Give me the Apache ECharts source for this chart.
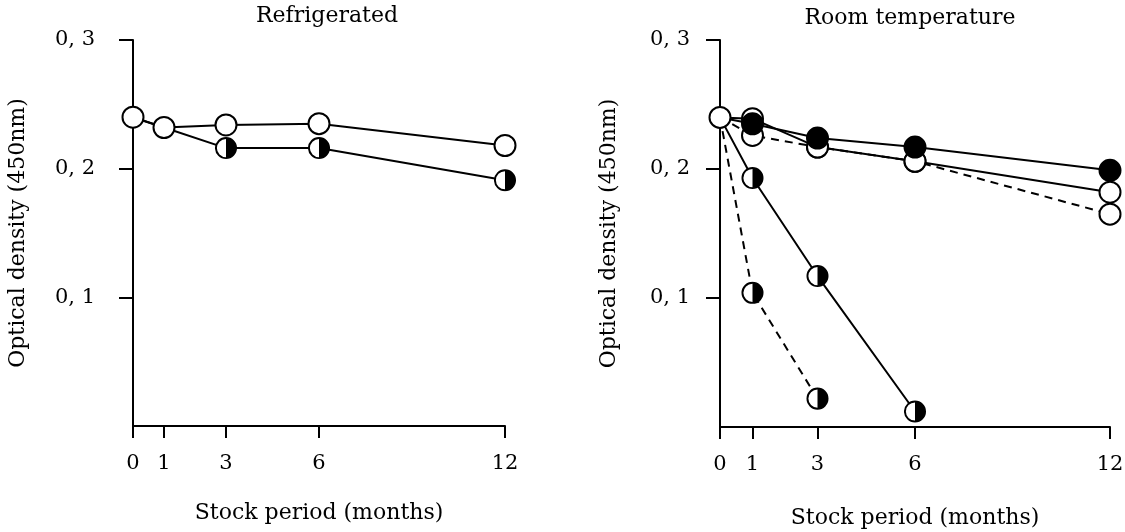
<!DOCTYPE html>
<html>
<head>
<meta charset="utf-8">
<script src="https://cdn.jsdelivr.net/npm/echarts@6/dist/echarts.min.js"></script>
<style>
  html, body { margin: 0; padding: 0; background: #fff; }
  #chart { width: 1125px; height: 532px; }
</style>
</head>
<body>
<div id="chart"></div>
<script>
// months on the x axis
const months = [0, 1, 3, 6, 12];
const monthTicks = [0, 1, 3, 6, 12];
const odTicks = [0.1, 0.2, 0.3];

// Refrigerated
const refOpen = [0.240, 0.232, 0.234, 0.235, 0.218];
const refHalf = [0.240, 0.232, 0.216, 0.216, 0.191];

// Room temperature
const roomFilled = [0.240, 0.235, 0.224, 0.217, 0.199];
const roomOpenSolid = [0.240, 0.239, 0.217, 0.206, 0.182];
const roomOpenDashed = [0.240, 0.226, 0.217, 0.206, 0.165];
const roomHalfSolid = [0.240, 0.193, 0.117, 0.012];
const roomHalfDashed = [0.240, 0.104, 0.022];

const FONT = 'DejaVu Serif';
const INK = '#000';

// white left / black right circle
const halfSvg = '<svg xmlns="http://www.w3.org/2000/svg" width="24" height="24" viewBox="0 0 24 24">' +
    '<circle cx="12" cy="12" r="10.5" fill="#fff" stroke="#000" stroke-width="2"/>' +
    '<path d="M12 1.5 A10.5 10.5 0 0 1 12 22.5 Z" fill="#000"/></svg>';
const HALF = 'image://data:image/svg+xml;charset=utf-8,' + encodeURIComponent(halfSvg);

const markers = {
    open: { symbol: 'circle', size: 21, itemStyle: { color: '#fff', borderColor: '#000', borderWidth: 2 } },
    filled: { symbol: 'circle', size: 21, itemStyle: { color: '#000', borderColor: '#000', borderWidth: 2 } },
    half: { symbol: HALF, size: 23, itemStyle: { color: '#000' } }
};

// hide the marker on points shared with another line (start / split points)
function toData(values, hideFirst) {
    return values.map((v, i) => {
        const item = { value: [months[i], v] };
        if (i < hideFirst) item.symbol = 'none';
        return item;
    });
}

function line(idx, values, kind, dashed, hideFirst = 0) {
    return {
        type: 'line',
        xAxisIndex: idx,
        yAxisIndex: idx,
        data: toData(values, hideFirst),
        symbol: markers[kind].symbol,
        symbolSize: markers[kind].size,
        itemStyle: markers[kind].itemStyle,
        lineStyle: { color: '#000', width: 2, type: dashed ? [8, 6] : 'solid' },
        animation: false
    };
}

function xAxis(idx) {
    return {
        type: 'value',
        gridIndex: idx,
        min: 0,
        max: 12,
        name: 'Stock period (months)',
        nameLocation: 'middle',
        nameGap: idx === 0 ? 76 : 80,
        nameTextStyle: { fontFamily: FONT, fontSize: 22, color: INK },
        axisLine: { lineStyle: { color: '#000', width: 2 } },
        axisTick: { customValues: monthTicks, length: 12, lineStyle: { color: '#000', width: 2 } },
        axisLabel: { customValues: monthTicks, margin: 27, fontFamily: FONT, fontSize: 21, color: INK },
        splitLine: { show: false }
    };
}

function yAxis(idx) {
    return {
        type: 'value',
        gridIndex: idx,
        min: 0,
        max: 0.3,
        interval: 0.1,
        name: 'Optical density (450nm)',
        nameLocation: 'middle',
        nameRotate: 90,
        nameGap: idx === 0 ? 104 : 100,
        nameTextStyle: { fontFamily: FONT, fontSize: 22, color: INK },
        axisLine: { show: true, lineStyle: { color: '#000', width: 2 } },
        axisTick: { show: true, customValues: odTicks, length: 14, lineStyle: { color: '#000', width: 2 } },
        axisLabel: {
            customValues: odTicks,
            margin: idx === 0 ? 38 : 30,
            fontFamily: FONT,
            fontSize: 21,
            color: INK,
            formatter: v => v.toFixed(1).replace('.', ', ')
        },
        splitLine: { show: false }
    };
}

const chart = echarts.init(document.getElementById('chart'));
chart.setOption({
    animation: false,
    backgroundColor: '#fff',
    title: [
        { text: 'Refrigerated', left: 322, top: 0, textAlign: 'center',
          textStyle: { fontFamily: FONT, fontSize: 22, fontWeight: 'normal', color: INK } },
        { text: 'Room temperature', left: 905, top: 2, textAlign: 'center',
          textStyle: { fontFamily: FONT, fontSize: 22, fontWeight: 'normal', color: INK } }
    ],
    grid: [
        { left: 133, top: 40, width: 372, height: 386, outerBoundsMode: 'none' },
        { left: 720, top: 40, width: 390, height: 387, outerBoundsMode: 'none' }
    ],
    xAxis: [xAxis(0), xAxis(1)],
    yAxis: [yAxis(0), yAxis(1)],
    series: [
        line(0, refHalf, 'half', false, 2),
        line(0, refOpen, 'open', false),
        line(1, roomHalfSolid, 'half', false, 1),
        line(1, roomHalfDashed, 'half', true, 1),
        line(1, roomOpenDashed, 'open', true, 1),
        line(1, roomOpenSolid, 'open', false),
        line(1, roomFilled, 'filled', false, 1)
    ]
});
</script>
</body>
</html>
